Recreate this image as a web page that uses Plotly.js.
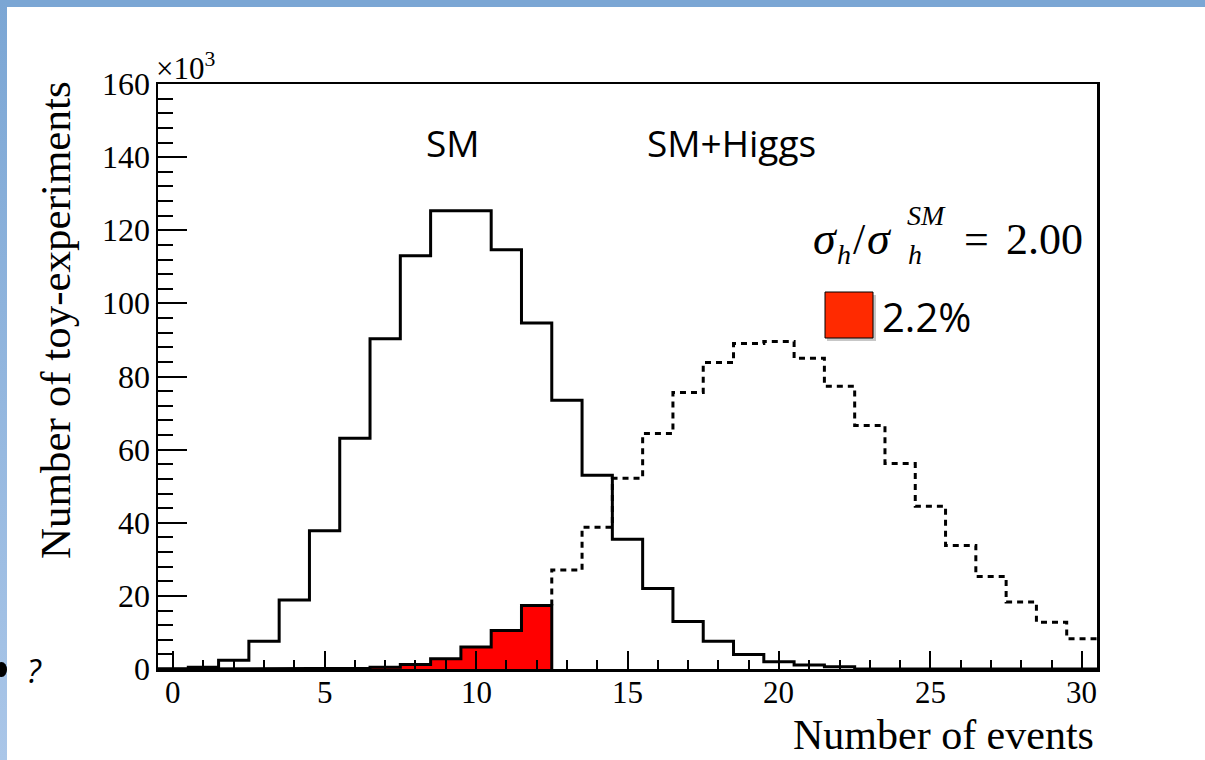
<!DOCTYPE html>
<html>
<head>
<meta charset="utf-8">
<script src="https://cdn.plot.ly/plotly-3.0.1.min.js"></script>
<style>
  html, body { margin: 0; padding: 0; background: #ffffff; }
  #wrap { position: relative; width: 1205px; height: 760px; overflow: hidden; background: #ffffff; }
  #bandTop { position: absolute; left: 0; top: 0; width: 1205px; height: 7px; background: #7ba6d4; z-index: 0; }
  #bandLeft { position: absolute; left: 0; top: 0; width: 7px; height: 760px; background: linear-gradient(to bottom, #7ba6d4, #aac6e8); z-index: 0; }
  #chart { position: absolute; left: 0; top: 0; width: 1205px; height: 760px; z-index: 1; }
</style>
</head>
<body>
<div id="wrap">
  <div id="bandTop"></div>
  <div id="bandLeft"></div>
  <div id="chart"></div>
</div>
<script>
// ---- data (counts in units of 10^3) ----
const nEvents = [0,1,2,3,4,5,6,7,8,9,10,11,12,13,14,15,16,17,18,19,20,21,22,23,24,25,26,27,28,29,30];
const smCounts = [0.0,0.5,2.4,7.6,18.9,37.8,63.1,90.3,113.0,125.3,125.3,114.7,94.6,73.5,53.0,35.5,22.0,13.0,7.6,4.0,2.0,1.1,0.6,0,0,0,0,0,0,0,0];
const smHiggsCounts = [0,0,0,0,0,0,0.2,0.5,1.2,2.8,6.0,10.5,17.4,27.1,38.8,52.2,64.4,75.6,83.8,89.0,89.6,85.0,77.3,66.6,56.2,44.5,33.8,25.3,18.3,12.8,8.3];
const cutBin = 12;             // SM+Higgs bins <= cutBin are shaded
const seriesLabels = ["SM", "SM+Higgs"];
const fractionLabel = "2.2%";
const ratioValue = "2.00";
const yTickVals = [0,20,40,60,80,100,120,140,160];
const yTickText = ["0","20","40","60","80","100","120","140","160"];
const xTickVals = [0,5,10,15,20,25,30];
const xTickText = ["0","5","10","15","20","25","30"];

// ---- layout geometry ----
const W = 1205, H = 760;
const M = {l: 158, r: 108, t: 84, b: 91};
const PW = W - M.l - M.r, PH = H - M.t - M.b;
const px = v => (v - M.l) / PW;          // pixel -> paper x
const py = v => (H - M.b - v) / PH;      // pixel -> paper y

const SERIF = "'Liberation Serif', 'Times New Roman', serif";
const SANS = "'Open Sans', sans-serif";

// build step outlines from bin centres/values
function stepLine(centers, vals, i0, i1) {
  const xs = [], ys = [];
  for (let i = i0; i <= i1; i++) {
    xs.push(centers[i] - 0.5, centers[i] + 0.5);
    ys.push(vals[i], vals[i]);
  }
  return {xs, ys};
}

const smStep = stepLine(nEvents, smCounts, 0, nEvents.length - 1);
smStep.xs.unshift(nEvents[0] - 0.5); smStep.ys.unshift(0);

const redStep = stepLine(nEvents, smHiggsCounts, 0, cutBin);
redStep.xs.unshift(nEvents[0] - 0.5); redStep.ys.unshift(0);
redStep.xs.push(nEvents[cutBin] + 0.5); redStep.ys.push(0);

const dotStep = stepLine(nEvents, smHiggsCounts, cutBin + 1, nEvents.length - 1);
dotStep.xs.unshift(nEvents[cutBin] + 0.5); dotStep.ys.unshift(smHiggsCounts[cutBin]);

const traces = [
  {x: redStep.xs, y: redStep.ys, type: 'scatter', mode: 'lines', fill: 'tozeroy',
   fillcolor: '#ff0000', line: {color: '#000000', width: 3}, hoverinfo: 'skip'},
  {x: dotStep.xs, y: dotStep.ys, type: 'scatter', mode: 'lines',
   line: {color: '#000000', width: 3, dash: '6px,5px'}, hoverinfo: 'skip'},
  {x: smStep.xs, y: smStep.ys, type: 'scatter', mode: 'lines',
   line: {color: '#000000', width: 3}, hoverinfo: 'skip'}
];

function ann(text, xPix, yPix, opts) {
  return Object.assign({
    text: text, xref: 'paper', yref: 'paper', x: px(xPix), y: py(yPix),
    showarrow: false, xanchor: 'left', yanchor: 'bottom',
    font: {family: SERIF, size: 44, color: '#000000'}
  }, opts || {});
}

const annotations = [
  // axis titles
  ann('Number of events', 1096, 760, {xanchor: 'right', font: {family: SERIF, size: 42, color: '#000'}}),
  ann('Number of toy-experiments', 55, 320, {xanchor: 'center', yanchor: 'middle', textangle: -90,
      font: {family: SERIF, size: 43, color: '#000'}}),
  ann('×10<sup>3</sup>', 154, 88, {font: {family: SERIF, size: 31, color: '#000'}}),
  // series labels
  ann(seriesLabels[0], 453, 142, {xanchor: 'center', yanchor: 'middle', font: {family: SANS, size: 37, color: '#000'}}),
  ann(seriesLabels[1], 731, 142, {xanchor: 'center', yanchor: 'middle', font: {family: SANS, size: 37, color: '#000'}}),
  // formula sigma_h / sigma_h^SM = 2.00
  ann('<i>σ</i>', 811, 266, {font: {family: SERIF, size: 46, color: '#000'}}),
  ann('<i>h</i>', 835, 272, {font: {family: SERIF, size: 28, color: '#000'}}),
  ann('/', 851, 266),
  ann('<i>σ</i>', 865, 266, {font: {family: SERIF, size: 46, color: '#000'}}),
  ann('<i>h</i>', 906, 272, {font: {family: SERIF, size: 28, color: '#000'}}),
  ann('<i>SM</i>', 905, 233, {font: {family: SERIF, size: 28, color: '#000'}}),
  ann('=', 962, 266),
  ann(ratioValue, 1004, 266),
  // fraction label
  ann(fractionLabel, 880, 316, {yanchor: 'middle', font: {family: SANS, size: 40, color: '#000'}}),
  // slide leftover
  ann('<i>?</i>', 34, 670, {xanchor: 'center', yanchor: 'middle', font: {family: SANS, size: 32, color: '#000'}})
];

// tick labels placed through the axes' own scales
xTickVals.forEach((v, i) => annotations.push({
  text: xTickText[i], xref: 'x', yref: 'paper', x: v, y: py(692.5),
  showarrow: false, xanchor: 'center', yanchor: 'middle',
  font: {family: SERIF, size: 31, color: '#000'}
}));
yTickVals.forEach((v, i) => annotations.push({
  text: yTickText[i], xref: 'paper', yref: 'y', x: px(152), y: v,
  showarrow: false, xanchor: 'right', yanchor: 'middle',
  font: {family: SERIF, size: 32, color: '#000'}
}));

const shapes = [
  // legend square shadow + square
  {type: 'rect', xref: 'paper', yref: 'paper', x0: px(827), x1: px(876), y0: py(341), y1: py(295),
   fillcolor: 'rgba(0,0,0,0.22)', line: {width: 0}},
  {type: 'rect', xref: 'paper', yref: 'paper', x0: px(825), x1: px(873), y0: py(338), y1: py(292),
   fillcolor: '#ff2a00', line: {color: '#000000', width: 1}},
  // cut-off glyph fragment at the slide's left edge
  {type: 'circle', xref: 'paper', yref: 'paper', x0: px(-4), x1: px(7), y0: py(677), y1: py(662),
   fillcolor: '#000000', line: {width: 0}}
];

const layout = {
  width: W, height: H,
  margin: M,
  paper_bgcolor: 'rgba(0,0,0,0)',
  plot_bgcolor: '#ffffff',
  showlegend: false,
  xaxis: {
    range: [-0.5, 30.5], tickmode: 'array', tickvals: xTickVals, showticklabels: false,
    ticks: 'inside', ticklen: 18, tickwidth: 2, tickcolor: '#000',
    minor: {ticks: 'inside', ticklen: 9, tickwidth: 2, tickcolor: '#000', dtick: 1, tick0: 0, showgrid: false},
    showline: true, linecolor: '#000', linewidth: 2.5, mirror: true,
    showgrid: false, zeroline: false
  },
  yaxis: {
    range: [0, 160], tickmode: 'array', tickvals: yTickVals, showticklabels: false,
    ticks: 'inside', ticklen: 29, tickwidth: 2, tickcolor: '#000',
    minor: {ticks: 'inside', ticklen: 15, tickwidth: 2, tickcolor: '#000', dtick: 4, tick0: 0, showgrid: false},
    showline: true, linecolor: '#000', linewidth: 2.5, mirror: true,
    showgrid: false, zeroline: false
  },
  annotations: annotations,
  shapes: shapes
};

Plotly.newPlot('chart', traces, layout, {staticPlot: true, displayModeBar: false});
</script>
</body>
</html>
